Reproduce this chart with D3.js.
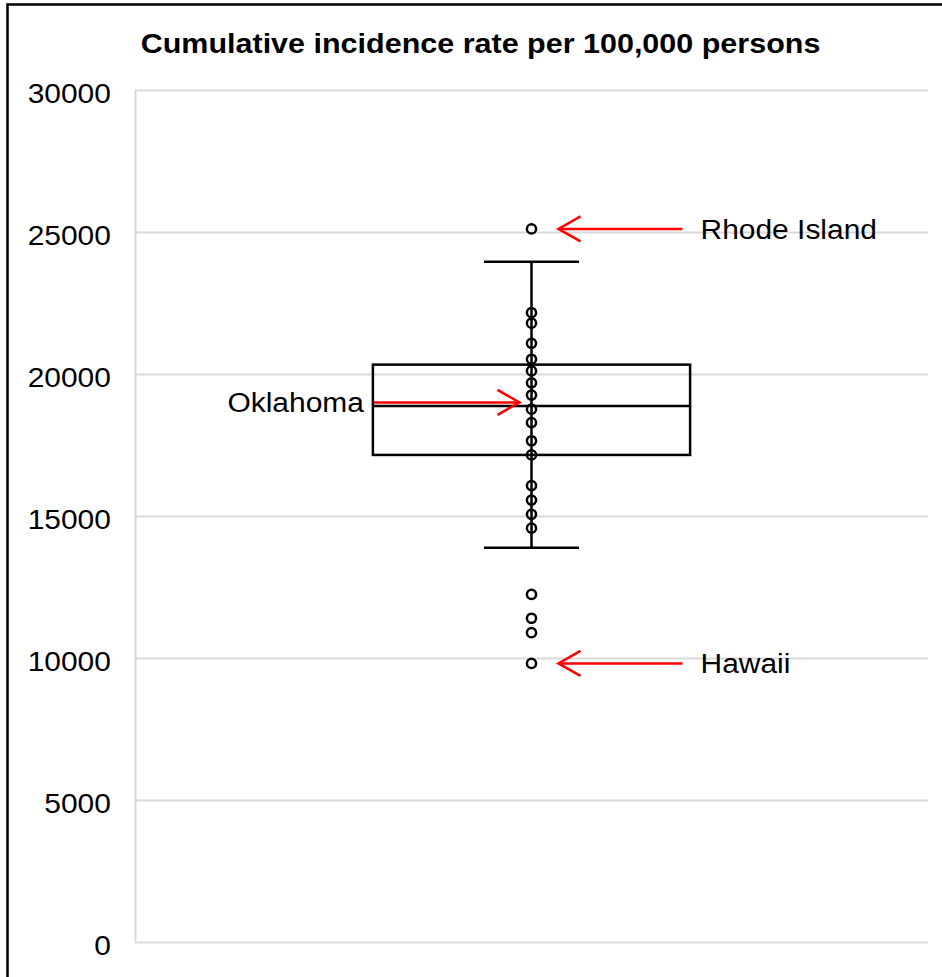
<!DOCTYPE html>
<html lang="en">
<head>
    <meta charset="UTF-8">
    <title>Cumulative incidence rate per 100,000 persons</title>
    <style>
        body { margin: 0; background: #fff; }
        svg { display: block; font-family: "Liberation Sans", Arial, sans-serif; }
        .grid line, .grid path { stroke: #d9d9d9; stroke-width: 2; }
        .grid text { font-size: 28px; fill: #000; }
    </style>
</head>
<body>
<svg id="chart" width="942" height="977"></svg>

<script src="https://cdn.jsdelivr.net/npm/d3@7"></script>
<script>
    // values
    const titleText = "Cumulative incidence rate per 100,000 persons";
    const yTicks = [0, 5000, 10000, 15000, 20000, 25000, 30000];
    const whiskerValues = [13880, 23950];          // lower, upper
    const boxValues = [17150, 18870, 20330];       // Q1, median, Q3
    const stateRates = [25110, 22160, 21790, 21080, 20520, 20110, 19690, 19260,
                        18760, 18290, 17650, 17150, 16070, 15560, 15060, 14570,
                        12240, 11400, 10890, 9810];
    const calloutNames = ["Rhode Island", "Oklahoma", "Hawaii"];
    const calloutValues = [25110, 19000, 9810];
    const calloutSides = ["right", "left", "right"];

    const svg = d3.select("#chart");
    const width = +svg.attr("width");
    const height = +svg.attr("height");
    const margin = {top: 90, right: 14, bottom: 35, left: 135};

    // chart frame (right and bottom edges fall outside the picture)
    svg.append("rect")
        .attr("x", 7.5).attr("y", 4.5)
        .attr("width", width + 20).attr("height", height + 20)
        .attr("fill", "none").attr("stroke", "#000").attr("stroke-width", 2.5);

    const x = d3.scaleLinear().domain([0, 1]).range([margin.left, width - margin.right]);
    const y = d3.scaleLinear().domain([0, 30000]).range([height - margin.bottom, margin.top]);
    const cx = x(0.5);

    // title
    svg.append("text")
        .attr("transform", `translate(480.5,53) scale(1.13,1)`)
        .attr("text-anchor", "middle")
        .attr("font-size", 27).attr("font-weight", "bold")
        .text(titleText);

    // y axis + gridlines
    const axis = svg.append("g")
        .attr("class", "grid")
        .attr("transform", `translate(${margin.left},0)`)
        .call(d3.axisLeft(y).tickValues(yTicks).tickFormat(d3.format("d"))
            .tickSize(-(width - margin.right - margin.left)).tickSizeOuter(0).tickPadding(22.5));
    axis.selectAll("text")
        .attr("dy", null).attr("y", 12.5)
        .attr("transform", "scale(1.07,1)");

    // whisker line
    svg.append("line")
        .attr("x1", cx).attr("x2", cx)
        .attr("y1", y(whiskerValues[0])).attr("y2", y(whiskerValues[1]))
        .attr("stroke", "#000").attr("stroke-width", 2.5);

    // whisker caps
    svg.selectAll(".cap").data(whiskerValues).join("line")
        .attr("class", "cap")
        .attr("x1", x(0.44)).attr("x2", x(0.56))
        .attr("y1", d => y(d)).attr("y2", d => y(d))
        .attr("stroke", "#000").attr("stroke-width", 2.5);

    // box
    svg.append("rect")
        .attr("x", x(0.3)).attr("width", x(0.7) - x(0.3))
        .attr("y", y(boxValues[2])).attr("height", y(boxValues[0]) - y(boxValues[2]))
        .attr("fill", "none").attr("stroke", "#000").attr("stroke-width", 2.5);

    svg.append("line")
        .attr("x1", x(0.3)).attr("x2", x(0.7))
        .attr("y1", y(boxValues[1])).attr("y2", y(boxValues[1]))
        .attr("stroke", "#000").attr("stroke-width", 2.5);

    // state points
    svg.selectAll(".pt").data(stateRates).join("circle")
        .attr("class", "pt")
        .attr("cx", cx).attr("cy", d => y(d))
        .attr("r", 4.6)
        .attr("fill", "none").attr("stroke", "#000").attr("stroke-width", 2.5);

    // callouts: red arrows and labels
    const callouts = calloutNames.map((name, i) => ({
        name, value: calloutValues[i], side: calloutSides[i]
    }));

    const cg = svg.selectAll(".callout").data(callouts).join("g").attr("class", "callout");

    cg.each(function(d) {
        const g = d3.select(this);
        const yy = y(d.value);
        const tip = d.side === "right" ? cx + 27 : cx - 12;
        const tail = d.side === "right" ? cx + 151 : x(0.3) + 1;
        const dir = d.side === "right" ? 1 : -1;   // direction from tip back to tail

        g.append("line")
            .attr("x1", tail).attr("x2", tip).attr("y1", yy).attr("y2", yy)
            .attr("stroke", "#ff0000").attr("stroke-width", 2.5);
        g.append("path")
            .attr("d", d3.line()([[tip + dir * 22, yy - 12.5], [tip, yy], [tip + dir * 22, yy + 12.5]]))
            .attr("fill", "none").attr("stroke", "#ff0000").attr("stroke-width", 2.5);

        const lx = d.side === "right" ? tail + 18 : tail - 10;
        g.append("text")
            .attr("transform", `translate(${lx},${yy + 10}) scale(1.07,1)`)
            .attr("text-anchor", d.side === "right" ? "start" : "end")
            .attr("font-size", 28)
            .text(d.name);
    });
</script>
</body>
</html>
